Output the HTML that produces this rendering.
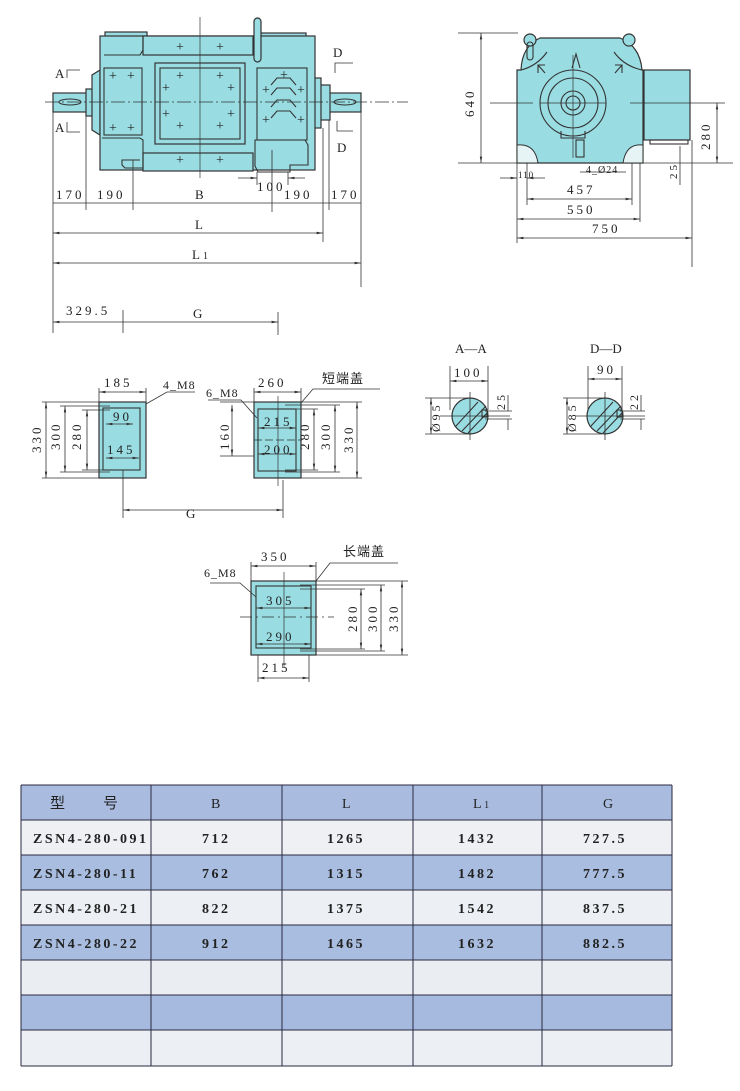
<!DOCTYPE html>
<html><head><meta charset="utf-8"><style>
html,body{margin:0;padding:0;background:#fff;}
svg{display:block;}
text{font-family:"Liberation Serif","Noto Serif CJK SC",serif;fill:#222;}
.d{stroke:#333;stroke-width:0.8;fill:none;}
.b{fill:#99dde3;stroke:#333;stroke-width:1.2;}
.n{fill:none;stroke:#333;stroke-width:1.1;}
.t{font-size:13px;letter-spacing:3px;}
.c{stroke:#333;stroke-width:0.7;}
</style></head><body>
<svg width="740" height="1091" viewBox="0 0 740 1091" xmlns="http://www.w3.org/2000/svg">
<defs><marker id="a" markerWidth="8" markerHeight="6" refX="8" refY="3" orient="auto-start-reverse"><path d="M0,1.5 L8,3 L0,4.5z" fill="#333"/></marker></defs>

<!-- MAIN FRONT VIEW -->
<rect class="b" x="53" y="93" width="34" height="19"/>
<rect class="b" x="86" y="89" width="10" height="27"/>
<rect class="b" x="329" y="93" width="32" height="19"/>
<rect class="b" x="320" y="85" width="10" height="35"/>
<rect class="b" x="313" y="78" width="8" height="50"/>
<path class="b" d="M100,70 L92,75 L92,130 L100,135 Z"/>
<rect class="b" x="105" y="32" width="42" height="6"/>
<rect class="b" x="258" y="33" width="48" height="5"/>
<rect class="b" x="100" y="36" width="215" height="134"/>
<rect class="b" x="143" y="36" width="110" height="19"/>
<rect class="b" x="143" y="153" width="110" height="18"/>
<rect class="b" x="155" y="63" width="90" height="81"/>
<rect class="n" x="160" y="68" width="80" height="71"/>
<rect class="n" x="104" y="68" width="38" height="67"/>
<rect class="n" x="257" y="68" width="50" height="72"/>
<path class="n" d="M104,55 L140,55 L143,50 L143,36"/>
<path class="n" d="M102,138 L140,138 L143,140 L143,168 L125,168 L122,165 L122,160 L140,160"/>
<path class="n" d="M255,140 L305,140 L308,145 L308,165 L290,165 L290,172 L258,172 L255,166 Z"/>
<rect class="b" x="254" y="18" width="7" height="44" rx="3.5"/>
<ellipse class="n" cx="70" cy="102" rx="11" ry="3"/>
<ellipse class="n" cx="345" cy="102" rx="11" ry="3"/>
<g class="n"><path d="M271,85 L277,78 L290,78 L296,85"/><path d="M271,95 L277,88 L290,88 L296,95"/><path d="M271,107 L277,100 L290,100 L296,107"/><path d="M271,118 L277,111 L290,111 L296,118"/></g>
<g font-size="14" text-anchor="middle" style="font-family:'Liberation Sans',sans-serif">
<text x="180" y="51">+</text><text x="220" y="51">+</text>
<text x="180" y="164">+</text><text x="220" y="164">+</text>
<text x="113" y="80">+</text><text x="131" y="80">+</text>
<text x="113" y="132">+</text><text x="131" y="132">+</text>
<text x="180" y="80">+</text><text x="220" y="80">+</text>
<text x="166" y="92">+</text><text x="231" y="92">+</text>
<text x="166" y="118">+</text><text x="231" y="118">+</text>
<text x="180" y="130">+</text><text x="220" y="130">+</text>
<text x="284" y="79">+</text><text x="266" y="94">+</text><text x="301" y="94">+</text>
<text x="266" y="124">+</text><text x="301" y="124">+</text>
</g>
<line class="c" x1="45" y1="102" x2="408" y2="102" stroke-dasharray="14,3,2,3"/>
<line class="c" x1="200" y1="17" x2="200" y2="178"/>
<text x="55" y="78" font-size="13">A</text><path class="d" d="M67,78 V70 H80"/>
<text x="55" y="132" font-size="13">A</text><path class="d" d="M67,122 V132 H80"/>
<text x="333" y="57" font-size="13">D</text><path class="d" d="M335,73 V63 H353"/>
<text x="337" y="152" font-size="13">D</text><path class="d" d="M337,121 V131 H353"/>
<g class="d">
<line x1="53" y1="112" x2="53" y2="333"/>
<line x1="86" y1="116" x2="86" y2="210"/>
<line x1="133" y1="160" x2="133" y2="210"/>
<line x1="272" y1="150" x2="272" y2="212"/>
<line x1="323" y1="128" x2="323" y2="242"/>
<line x1="329" y1="120" x2="329" y2="210"/>
<line x1="361" y1="112" x2="361" y2="287"/>
<line x1="123" y1="310" x2="123" y2="333"/>
<line x1="278" y1="312" x2="278" y2="335"/>
<line x1="53" y1="203" x2="361" y2="203"/>
<line x1="53" y1="233" x2="323" y2="233" marker-start="url(#a)" marker-end="url(#a)"/>
<line x1="53" y1="263" x2="361" y2="263" marker-start="url(#a)" marker-end="url(#a)"/>
<line x1="53" y1="322" x2="278" y2="322" marker-start="url(#a)" marker-end="url(#a)"/>
<line x1="238" y1="178" x2="257" y2="178" marker-end="url(#a)"/>
<line x1="305" y1="178" x2="288" y2="178" marker-end="url(#a)"/>
<line x1="257" y1="172" x2="257" y2="185"/><line x1="288" y1="172" x2="288" y2="185"/>
</g>
<g class="t">
<text x="56" y="199">170</text><text x="97" y="199">190</text><text x="195" y="199">B</text>
<text x="257" y="191">100</text><text x="284" y="199">190</text><text x="331" y="199">170</text>
<text x="195" y="229">L</text><text x="192" y="259">L<tspan font-size="10">1</tspan></text>
<text x="66" y="315">329.5</text><text x="193" y="318">G</text>
</g>

<!-- SIDE VIEW -->
<path class="b" d="M517,163 L517,70 L521,70 Q522,46 540,38 L620,38 Q640,46 642,70 L643,70 L643,163 Z"/>
<rect class="b" x="644" y="70" width="46" height="70"/>
<rect class="n" x="650" y="140" width="38" height="4"/>
<circle class="b" cx="530" cy="40" r="6"/><circle class="b" cx="629" cy="40" r="6"/>
<rect class="n" x="527" y="42" width="6" height="18" rx="3"/>
<path class="n" d="M521,70 Q537,66 547,52"/><path class="n" d="M642,70 Q624,66 614,52"/>
<path d="M517,145 Q535,143 538,163 L517,163Z" fill="#e6f4f5" stroke="#333" stroke-width="1"/>
<path d="M643,145 Q626,143 623,163 L643,163Z" fill="#e6f4f5" stroke="#333" stroke-width="1"/>
<circle class="n" cx="573" cy="103" r="33"/><circle class="n" cx="573" cy="103" r="25"/>
<circle class="n" cx="573" cy="103" r="12"/><circle class="n" cx="573" cy="103" r="7"/>
<path class="n" d="M561,131 L561,138 L585,138 L585,131"/>
<rect class="n" x="576" y="140" width="8" height="17"/>
<path class="n" d="M572,68 L576,54 L580,68"/>
<path class="n" d="M538,73 L538,65 L545,65 M538,65 L545,73"/><path class="n" d="M615,65 L622,65 L622,73 M615,73 L622,65"/>
<line class="c" x1="490" y1="103" x2="533" y2="103"/><line class="c" x1="540" y1="103" x2="606" y2="103"/>
<line class="c" x1="630" y1="103" x2="725" y2="103"/>
<line class="c" x1="573" y1="55" x2="573" y2="158"/>
<g class="d">
<line x1="458" y1="163" x2="733" y2="163"/>
<line x1="458" y1="33" x2="518" y2="33"/>
<line x1="481" y1="33" x2="481" y2="163" marker-start="url(#a)" marker-end="url(#a)"/>
<line x1="717" y1="103" x2="717" y2="163" marker-start="url(#a)" marker-end="url(#a)"/>
<line x1="680" y1="146" x2="680" y2="185"/>
<line x1="517" y1="163" x2="517" y2="243"/><line x1="527" y1="163" x2="527" y2="205"/>
<line x1="632" y1="163" x2="632" y2="205"/><line x1="640" y1="163" x2="640" y2="222"/>
<line x1="692" y1="140" x2="692" y2="267"/>
<line x1="500" y1="178" x2="517" y2="178" marker-end="url(#a)"/><line x1="545" y1="178" x2="527" y2="178" marker-end="url(#a)"/>
<line x1="527" y1="199" x2="632" y2="199" marker-start="url(#a)" marker-end="url(#a)"/>
<line x1="517" y1="219" x2="640" y2="219" marker-start="url(#a)" marker-end="url(#a)"/>
<line x1="517" y1="238" x2="692" y2="238" marker-start="url(#a)" marker-end="url(#a)"/>
<line x1="580" y1="172" x2="626" y2="172"/>
</g>
<g class="t">
<text transform="translate(474,117) rotate(-90)">640</text>
<text transform="translate(710,150) rotate(-90)">280</text>
<text transform="translate(677,179) rotate(-90)" font-size="11">25</text>
<text x="518" y="178" font-size="9" letter-spacing="1">110</text>
<text x="586" y="173" font-size="10" letter-spacing="1">4_Ø24</text>
<text x="567" y="194">457</text><text x="567" y="214">550</text><text x="592" y="233">750</text>
</g>

<!-- FLANGE VIEWS -->
<rect class="b" x="99" y="402" width="47" height="76"/>
<rect class="n" x="103" y="408" width="37" height="62"/>
<rect class="b" x="254" y="402" width="47" height="76"/>
<rect class="n" x="258" y="409" width="38" height="62"/>
<line class="c" x1="278" y1="396" x2="278" y2="486"/><line class="c" x1="254" y1="440" x2="302" y2="440" stroke-dasharray="8,3"/>
<g class="d">
<line x1="99" y1="388" x2="99" y2="402"/><line x1="146" y1="388" x2="146" y2="402"/>
<line x1="99" y1="392" x2="146" y2="392" marker-start="url(#a)" marker-end="url(#a)"/>
<line x1="254" y1="388" x2="254" y2="402"/><line x1="301" y1="388" x2="301" y2="402"/>
<line x1="254" y1="392" x2="301" y2="392" marker-start="url(#a)" marker-end="url(#a)"/>
<line x1="42" y1="402" x2="110" y2="402"/><line x1="42" y1="478" x2="110" y2="478"/>
<line x1="60" y1="406" x2="110" y2="406"/><line x1="60" y1="472" x2="110" y2="472"/>
<line x1="82" y1="410" x2="110" y2="410"/><line x1="82" y1="470" x2="110" y2="470"/>
<line x1="46" y1="402" x2="46" y2="478" marker-start="url(#a)" marker-end="url(#a)"/>
<line x1="65" y1="406" x2="65" y2="472" marker-start="url(#a)" marker-end="url(#a)"/>
<line x1="87" y1="410" x2="87" y2="470" marker-start="url(#a)" marker-end="url(#a)"/>
<line x1="106" y1="424" x2="133" y2="424" marker-start="url(#a)" marker-end="url(#a)"/>
<line x1="106" y1="458" x2="139" y2="458" marker-start="url(#a)" marker-end="url(#a)"/>
<path d="M146,404 L167,392 L195,392"/>
<line x1="123" y1="470" x2="123" y2="518"/><line x1="283" y1="480" x2="283" y2="518"/>
<line x1="123" y1="510" x2="283" y2="510" marker-start="url(#a)" marker-end="url(#a)"/>
<path d="M257,418 L241,400 L208,400"/>
<line x1="220" y1="402" x2="254" y2="402"/><line x1="220" y1="456" x2="254" y2="456"/>
<line x1="232" y1="405" x2="232" y2="456" marker-start="url(#a)" marker-end="url(#a)"/>
<line x1="258" y1="428" x2="296" y2="428" marker-start="url(#a)" marker-end="url(#a)"/>
<line x1="258" y1="454" x2="296" y2="454" marker-start="url(#a)" marker-end="url(#a)"/>
<path d="M301,403 L313,389 L380,389"/>
<line x1="280" y1="402" x2="362" y2="402"/><line x1="280" y1="478" x2="362" y2="478"/>
<line x1="285" y1="405" x2="340" y2="405"/><line x1="285" y1="472" x2="340" y2="472"/>
<line x1="285" y1="409" x2="318" y2="409"/><line x1="285" y1="470" x2="318" y2="470"/>
<line x1="314" y1="409" x2="314" y2="470" marker-start="url(#a)" marker-end="url(#a)"/>
<line x1="335" y1="405" x2="335" y2="472" marker-start="url(#a)" marker-end="url(#a)"/>
<line x1="357" y1="402" x2="357" y2="478" marker-start="url(#a)" marker-end="url(#a)"/>
</g>
<g class="t">
<text x="104" y="387">185</text><text x="163" y="389" font-size="12" letter-spacing="1">4_M8</text>
<text transform="translate(41,453) rotate(-90)">330</text>
<text transform="translate(60,450) rotate(-90)">300</text>
<text transform="translate(81,450) rotate(-90)">280</text>
<text x="113" y="421">90</text><text x="107" y="454">145</text>
<text x="186" y="518" letter-spacing="0">G</text>
<text x="258" y="387">260</text><text x="206" y="397" font-size="12" letter-spacing="1">6_M8</text>
<text x="322" y="383" letter-spacing="1" style="font-family:'Liberation Sans','Noto Sans CJK SC',sans-serif">短端盖</text>
<text x="264" y="426">215</text><text x="264" y="454">200</text>
<text transform="translate(229,450) rotate(-90)">160</text>
<text transform="translate(309,450) rotate(-90)">280</text>
<text transform="translate(330,450) rotate(-90)">300</text>
<text transform="translate(353,453) rotate(-90)">330</text>
</g>

<!-- LONG END COVER -->
<rect class="b" x="251" y="581" width="65" height="74"/>
<rect class="n" x="256" y="586" width="55" height="62"/>
<line class="c" x1="284" y1="572" x2="284" y2="668"/><line class="c" x1="240" y1="617" x2="334" y2="617" stroke-dasharray="12,4,2,4"/>
<g class="d">
<line x1="251" y1="562" x2="251" y2="581"/><line x1="316" y1="562" x2="316" y2="581"/>
<line x1="251" y1="566" x2="316" y2="566" marker-start="url(#a)" marker-end="url(#a)"/>
<line x1="258" y1="655" x2="258" y2="682"/><line x1="309" y1="655" x2="309" y2="682"/>
<line x1="258" y1="678" x2="309" y2="678" marker-start="url(#a)" marker-end="url(#a)"/>
<line x1="256" y1="608" x2="311" y2="608" marker-start="url(#a)" marker-end="url(#a)"/>
<line x1="256" y1="644" x2="311" y2="644" marker-start="url(#a)" marker-end="url(#a)"/>
<path d="M256,597 L240,583 L210,583"/>
<path d="M316,581 L330,563 L398,563"/>
<line x1="300" y1="581" x2="408" y2="581"/><line x1="300" y1="655" x2="408" y2="655"/>
<line x1="300" y1="585" x2="385" y2="585"/><line x1="300" y1="651" x2="385" y2="651"/>
<line x1="300" y1="589" x2="365" y2="589"/><line x1="300" y1="649" x2="365" y2="649"/>
<line x1="361" y1="589" x2="361" y2="649" marker-start="url(#a)" marker-end="url(#a)"/>
<line x1="381" y1="585" x2="381" y2="651" marker-start="url(#a)" marker-end="url(#a)"/>
<line x1="402" y1="581" x2="402" y2="655" marker-start="url(#a)" marker-end="url(#a)"/>
</g>
<g class="t">
<text x="261" y="561">350</text><text x="204" y="577" font-size="12" letter-spacing="1">6_M8</text>
<text x="343" y="556" letter-spacing="1" style="font-family:'Liberation Sans','Noto Sans CJK SC',sans-serif">长端盖</text>
<text x="266" y="605">305</text><text x="266" y="641">290</text>
<text x="262" y="672">215</text>
<text transform="translate(357,632) rotate(-90)">280</text>
<text transform="translate(377,632) rotate(-90)">300</text>
<text transform="translate(398,632) rotate(-90)">330</text>
</g>

<!-- SECTIONS -->
<g>
<circle class="b" cx="470" cy="416" r="18"/>
<path class="n" d="M456,426 L478,402 M462,431 L486,406 M468,433 L488,412"/>
<rect class="n" x="482" y="410" width="5" height="7"/>
<circle class="b" cx="605" cy="416" r="18"/>
<path class="n" d="M591,426 L613,402 M597,431 L621,406 M603,433 L623,412"/>
<rect class="n" x="617" y="410" width="5" height="7"/>
<g class="d">
<line x1="470" y1="392" x2="470" y2="440"/><line x1="605" y1="392" x2="605" y2="440"/>
<line x1="440" y1="416" x2="510" y2="416"/><line x1="575" y1="416" x2="645" y2="416"/>
<line x1="450" y1="366" x2="450" y2="410"/><line x1="488" y1="366" x2="488" y2="410"/>
<line x1="450" y1="381" x2="488" y2="381" marker-start="url(#a)" marker-end="url(#a)"/>
<line x1="588" y1="366" x2="588" y2="410"/><line x1="622" y1="366" x2="622" y2="410"/>
<line x1="588" y1="379" x2="622" y2="379" marker-start="url(#a)" marker-end="url(#a)"/>
<line x1="425" y1="398" x2="468" y2="398"/><line x1="425" y1="434" x2="468" y2="434"/>
<line x1="431" y1="398" x2="431" y2="434" marker-start="url(#a)" marker-end="url(#a)"/>
<line x1="563" y1="398" x2="602" y2="398"/><line x1="563" y1="434" x2="602" y2="434"/>
<line x1="567" y1="398" x2="567" y2="434" marker-start="url(#a)" marker-end="url(#a)"/>
<line x1="485" y1="411" x2="512" y2="411"/><line x1="485" y1="419" x2="512" y2="419"/>
<line x1="508" y1="395" x2="508" y2="411"/><line x1="508" y1="419" x2="508" y2="430"/>
<line x1="620" y1="411" x2="645" y2="411"/><line x1="620" y1="419" x2="645" y2="419"/>
<line x1="641" y1="395" x2="641" y2="411"/><line x1="641" y1="419" x2="641" y2="430"/>
</g>
<g class="t">
<text x="455" y="353" letter-spacing="0">A—A</text><text x="590" y="353" letter-spacing="0">D—D</text>
<text x="454" y="377">100</text><text x="597" y="374">90</text>
<text transform="translate(505,410) rotate(-90)" font-size="12">25</text>
<text transform="translate(638,410) rotate(-90)" font-size="12">22</text>
<text transform="translate(440,432) rotate(-90)" font-size="12">Ø95</text>
<text transform="translate(576,432) rotate(-90)" font-size="12">Ø85</text>
</g>
</g>

<!-- TABLE -->
<g>
<rect x="21" y="785" width="651" height="35" fill="#a9bce0"/>
<rect x="21" y="820" width="651" height="35" fill="#eef0f4"/>
<rect x="21" y="855" width="651" height="35" fill="#a9bde0"/>
<rect x="21" y="890" width="651" height="35" fill="#eceff4"/>
<rect x="21" y="925" width="651" height="35" fill="#a9bde0"/>
<rect x="21" y="960" width="651" height="35" fill="#eaedf2"/>
<rect x="21" y="995" width="651" height="35" fill="#a6b9de"/>
<rect x="21" y="1030" width="651" height="36" fill="#eceff3"/>
<g stroke="#2a2a40" stroke-width="1">
<line x1="21" y1="785" x2="672" y2="785"/><line x1="21" y1="820" x2="672" y2="820"/>
<line x1="21" y1="855" x2="672" y2="855"/><line x1="21" y1="890" x2="672" y2="890"/>
<line x1="21" y1="925" x2="672" y2="925"/><line x1="21" y1="960" x2="672" y2="960"/>
<line x1="21" y1="995" x2="672" y2="995"/><line x1="21" y1="1030" x2="672" y2="1030"/>
<line x1="21" y1="1066" x2="672" y2="1066"/>
<line x1="21" y1="785" x2="21" y2="1066"/><line x1="151" y1="785" x2="151" y2="1066"/>
<line x1="282" y1="785" x2="282" y2="1066"/><line x1="413" y1="785" x2="413" y2="1066"/>
<line x1="542" y1="785" x2="542" y2="1066"/><line x1="672" y1="785" x2="672" y2="1066"/>
</g>
<g font-size="14" font-weight="bold" letter-spacing="2.5" style="font-family:'Liberation Mono','Noto Sans CJK SC',monospace" fill="#222">
<text x="50" y="808" font-weight="normal" style="font-family:'Liberation Sans','Noto Sans CJK SC',sans-serif" font-size="15">型</text>
<text x="103" y="808" font-weight="normal" style="font-family:'Liberation Sans','Noto Sans CJK SC',sans-serif" font-size="15">号</text>
<text x="211" y="808" font-weight="normal" style="font-family:'Liberation Serif',serif">B</text>
<text x="342" y="808" font-weight="normal" style="font-family:'Liberation Serif',serif">L</text>
<text x="473" y="808" font-weight="normal" style="font-family:'Liberation Serif',serif">L<tspan font-size="10">1</tspan></text>
<text x="603" y="808" font-weight="normal" style="font-family:'Liberation Serif',serif">G</text>
<text x="33" y="843">ZSN4-280-091</text><text x="202" y="843">712</text><text x="327" y="843">1265</text><text x="458" y="843">1432</text><text x="583" y="843">727.5</text>
<text x="33" y="878">ZSN4-280-11</text><text x="202" y="878">762</text><text x="327" y="878">1315</text><text x="458" y="878">1482</text><text x="583" y="878">777.5</text>
<text x="33" y="913">ZSN4-280-21</text><text x="202" y="913">822</text><text x="327" y="913">1375</text><text x="458" y="913">1542</text><text x="583" y="913">837.5</text>
<text x="33" y="948">ZSN4-280-22</text><text x="202" y="948">912</text><text x="327" y="948">1465</text><text x="458" y="948">1632</text><text x="583" y="948">882.5</text>
</g>
</g>
</svg>
</body></html>
